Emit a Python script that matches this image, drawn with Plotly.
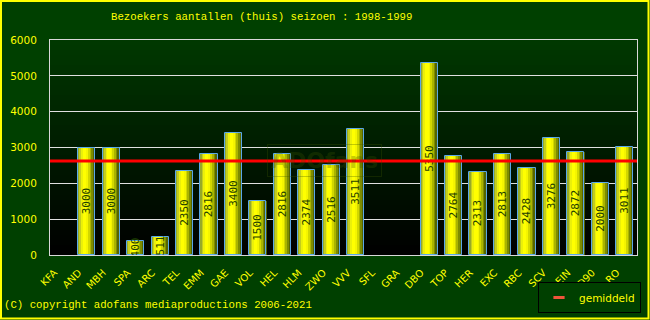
import plotly.graph_objects as go

# ---- data ----
teams = ["KFA", "AND", "MBH", "SPA", "ARC", "TEL", "EMM", "GAE", "VOL", "HEL", "HLM", "ZWO",
         "VVV", "SFL", "GRA", "DBO", "TOP", "HER", "EXC", "RBC", "SCV", "EIN", "D90", "RO"]
visitors = [0, 3000, 3000, 400, 511, 2350, 2816, 3400, 1500, 2816, 2374, 2516,
            3511, 0, 0, 5350, 2764, 2313, 2813, 2428, 3276, 2872, 2000, 3011]
y_ticks = [0, 1000, 2000, 3000, 4000, 5000, 6000]
title_text = "Bezoekers aantallen (thuis) seizoen : 1998-1999"
copyright_text = "(C) copyright adofans mediaproductions 2006-2021"
legend_name = "gemiddeld"

played = [v for v in visitors if v > 0]
average = sum(played) / len(played)

# ---- layout geometry ----
W, H = 650, 320
ML, MR, MT, MB = 50, 13, 40, 65
PW, PH = W - ML - MR, H - MT - MB


def px(x):
    return (x - ML) / PW


def py(y):
    return (H - MB - y) / PH


BG = "rgb(0,64,0)"
YELLOW = "#ffff00"

fig = go.Figure()

# bar gradient via narrow overlaid slices
bar_w = 0.7
profile = [(150, 170, 40), (195, 205, 30), (235, 240, 10), (255, 255, 0), (255, 255, 0),
           (245, 245, 0), (210, 215, 0), (170, 180, 0), (125, 140, 0), (85, 100, 0)]
n = len(profile)
for i, c in enumerate(profile):
    fig.add_trace(go.Bar(
        x=teams, y=visitors, width=bar_w / n + 0.004, offset=-bar_w / 2 + i * bar_w / n,
        marker=dict(color="rgb(%d,%d,%d)" % c, line=dict(width=0)),
        showlegend=False, hoverinfo="skip"))

labels = [str(v) if v > 0 else "" for v in visitors]
outline_w = [1 if v > 0 else 0 for v in visitors]
fig.add_trace(go.Bar(
    x=teams, y=visitors, width=bar_w, offset=-bar_w / 2,
    marker=dict(color="rgba(0,0,0,0)", line=dict(color="#5aa8e8", width=outline_w)),
    text=labels, textposition="inside", insidetextanchor="middle", textangle=-90,
    constraintext="none",
    insidetextfont=dict(family="DejaVu Sans Mono", size=11, color="#1e4000"),
    showlegend=False))

# legend entry for average line
fig.add_trace(go.Scatter(x=[None], y=[None], mode="markers", name=legend_name,
                         marker=dict(symbol="line-ew-open", size=8,
                                     line=dict(color="#ff0000", width=3))))

shapes = []
# plot area vertical gradient
bands = 43
for k in range(bands):
    t = k / (bands - 1)
    g = int(round(56 * t))
    shapes.append(dict(type="rect", xref="paper", yref="paper", x0=0, x1=1,
                       y0=k / bands, y1=(k + 1) / bands + 0.002,
                       fillcolor="rgb(0,%d,0)" % g, line=dict(width=0), layer="below"))
# average line
shapes.append(dict(type="line", xref="paper", yref="y", x0=0, x1=1, y0=average, y1=average,
                   line=dict(color="#ff0000", width=3), layer="above"))
# outer yellow border
shapes.append(dict(type="rect", xref="paper", yref="paper", x0=px(1), x1=px(W - 1.5),
                   y0=py(H - 1.5), y1=py(1), line=dict(color=YELLOW, width=2),
                   fillcolor="rgba(0,0,0,0)", layer="above"))

annotations = [
    dict(text=title_text, xref="paper", yref="paper", x=px(109), y=py(17),
         xanchor="left", yanchor="middle", showarrow=False,
         font=dict(family="Liberation Mono", size=10.7, color=YELLOW)),
    dict(text=copyright_text, xref="paper", yref="paper", x=px(2), y=py(305),
         xanchor="left", yanchor="middle", showarrow=False,
         font=dict(family="Liberation Mono", size=10.7, color=YELLOW)),
    dict(text="<b>ADOfans</b>", xref="paper", yref="paper", x=px(324), y=py(160),
         xanchor="center", yanchor="middle", showarrow=False,
         font=dict(family="DejaVu Sans", size=22, color="rgba(60,85,0,0.3)"),
         bordercolor="rgba(60,85,0,0.3)", borderwidth=1, borderpad=3),
]

fig.update_layout(
    width=W, height=H, margin=dict(l=ML, r=MR, t=MT, b=MB, pad=0, autoexpand=False),
    paper_bgcolor=BG, plot_bgcolor="rgba(0,0,0,0)",
    barmode="overlay", bargap=0,
    shapes=shapes, annotations=annotations,
    showlegend=True,
    legend=dict(x=px(538), y=py(282), xanchor="left", yanchor="top",
                bgcolor=BG, bordercolor="#000000", borderwidth=1,
                font=dict(family="DejaVu Sans", size=10.5, color=YELLOW),
                itemwidth=30, tracegroupgap=0),
    xaxis=dict(type="category", categoryorder="array", categoryarray=teams,
               tickangle=-45, tickfont=dict(family="DejaVu Sans", size=10, color=YELLOW),
               showgrid=False, showline=True, linecolor="#d8d8d8", linewidth=1, mirror=True,
               ticks="", zeroline=False, ticklabelstandoff=7, ticklabelshift=-8,
               automargin=False),
    yaxis=dict(range=[0, 6000], tickvals=y_ticks, showgrid=True, gridcolor="#e0e0e0",
               gridwidth=1, showline=True, linecolor="#d8d8d8", linewidth=1, mirror=True,
               tickfont=dict(family="DejaVu Sans", size=10.5, color=YELLOW),
               ticks="", ticklabelstandoff=10, zeroline=False, automargin=False),
)

fig.write_html("out.html")
